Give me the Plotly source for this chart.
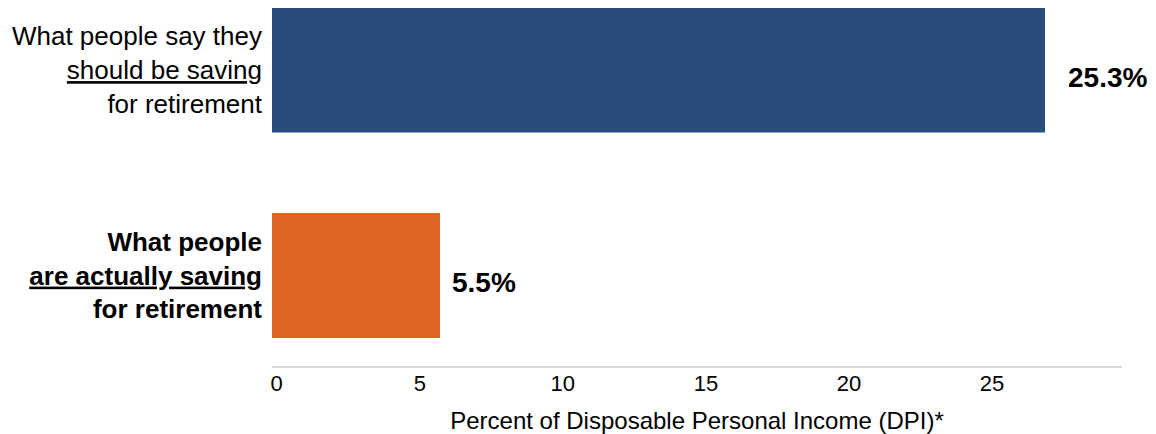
import plotly.graph_objects as go

# ---- data ----
categories = [
    "What people say they should be saving for retirement",
    "What people are actually saving for retirement",
]
values = [25.3, 5.5]
value_labels = ["25.3%", "5.5%"]
tick_values = [0, 5, 10, 15, 20, 25]
axis_title = "Percent of Disposable Personal Income (DPI)*"

# ---- styling ----
bar_colors = ["#294D7B", "#DD6422"]
cat_ticktext = [
    "What people say they<br><u>should be saving</u><br>for retirement",
    "<b>What people<br><u>are actually saving</u><br>for retirement</b>",
]
label_xshift = [21, 10]
FONT = "Arial, Liberation Sans, sans-serif"

fig = go.Figure()
fig.add_trace(go.Bar(
    x=values,
    y=categories,
    orientation="h",
    marker=dict(color=bar_colors, line=dict(width=0)),
    width=0.608,
    hoverinfo="skip",
    xaxis="x",
    yaxis="y",
))
# invisible helper trace so the tick axis (x2) is drawn
fig.add_trace(go.Scatter(
    x=[tick_values[0], tick_values[-1]],
    y=[categories[0], categories[0]],
    mode="lines", line=dict(width=0), opacity=0,
    hoverinfo="skip", showlegend=False,
    xaxis="x2", yaxis="y",
))

for c, v, lab, dx in zip(categories, values, value_labels, label_xshift):
    fig.add_annotation(
        x=v, y=c, xref="x", yref="y",
        text=f"<b>{lab}</b>", showarrow=False,
        xanchor="left", yanchor="middle",
        xshift=dx, yshift=-7,
        font=dict(family=FONT, size=28, color="#000000"),
    )

fig.update_layout(
    template="none",
    width=1148, height=426,
    margin=dict(l=264, r=34, t=0, b=68, pad=0),
    paper_bgcolor="white", plot_bgcolor="white",
    showlegend=False,
    font=dict(family=FONT, color="#000000"),
    xaxis=dict(
        range=[0, 27.82],
        visible=False, automargin=False,
        showgrid=False, zeroline=False,
    ),
    xaxis2=dict(
        overlaying="x", anchor="y", side="bottom",
        range=[-0.164, 29.54], automargin=False,
        tickmode="array", tickvals=tick_values,
        ticktext=[str(t) for t in tick_values],
        tickfont=dict(family=FONT, size=22, color="#000000"),
        showgrid=False, zeroline=False,
        showline=True, linecolor="#D9D9D9", linewidth=2,
        ticks="", ticklabelstandoff=-3,
        title=dict(text=axis_title, standoff=18,
                   font=dict(family=FONT, size=24, color="#000000")),
    ),
    yaxis=dict(
        range=[1.4404, -0.3017], automargin=False,
        tickmode="array", tickvals=categories, ticktext=cat_ticktext,
        tickfont=dict(family=FONT, size=26, color="#000000"),
        showgrid=False, zeroline=False, showline=False,
        ticks="", ticklabelstandoff=9,
    ),
)

fig.write_html("out.html")
